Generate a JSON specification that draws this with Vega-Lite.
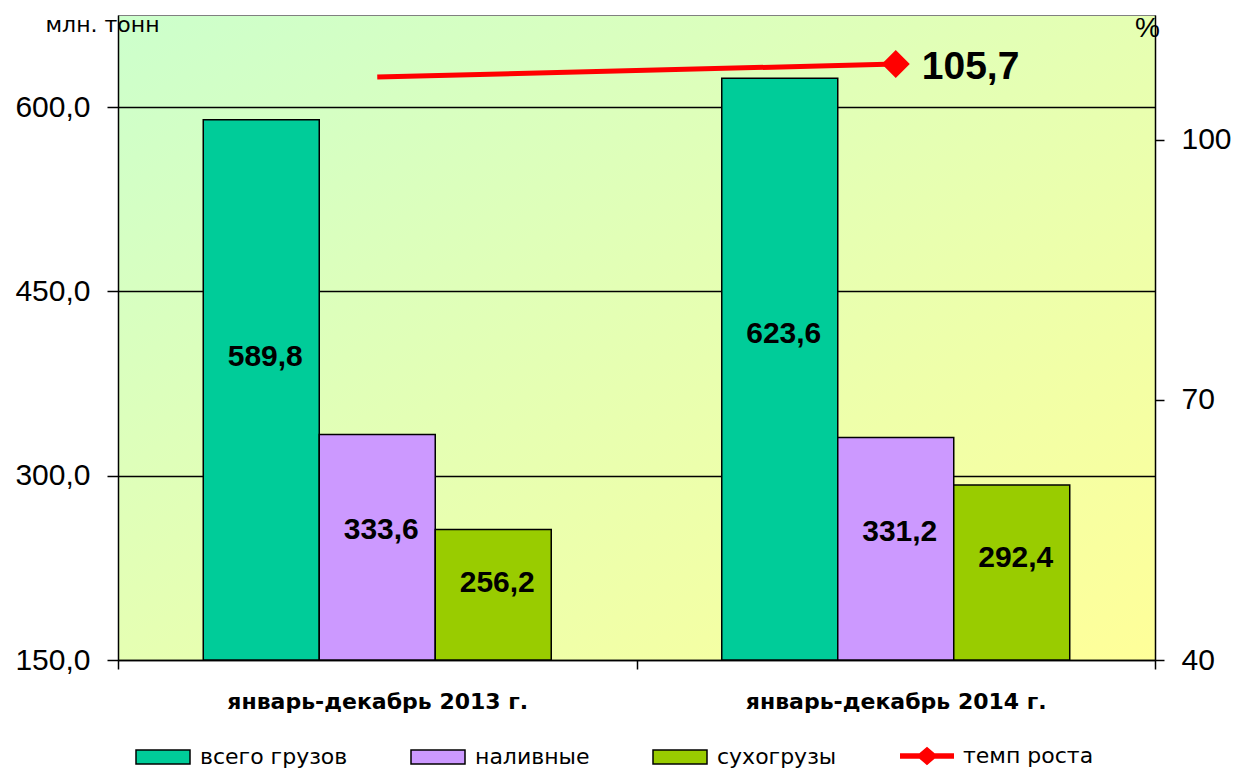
{
  "$schema": "https://vega.github.io/schema/vega-lite/v6.json",
  "width": 1037,
  "height": 645,
  "autosize": {"type": "none"},
  "padding": {"left": 118, "top": 15, "right": 80, "bottom": 111},
  "background": "white",
  "config": {
    "font": "Liberation Sans",
    "view": {
      "fill": {"gradient": "linear", "x1": 0, "y1": 0, "x2": 1, "y2": 1,
        "stops": [{"offset": 0, "color": "#CCFFCC"}, {"offset": 1, "color": "#FFFF99"}]},
      "stroke": "#808080",
      "strokeWidth": 1
    }
  },
  "resolve": {"scale": {"y": "independent"}},
  "layer": [
    {
      "data": {"values": [
        {"period": "январь-декабрь 2013 г.", "type": "всего грузов", "value": 589.8},
        {"period": "январь-декабрь 2013 г.", "type": "наливные", "value": 333.6},
        {"period": "январь-декабрь 2013 г.", "type": "сухогрузы", "value": 256.2},
        {"period": "январь-декабрь 2014 г.", "type": "всего грузов", "value": 623.6},
        {"period": "январь-декабрь 2014 г.", "type": "наливные", "value": 331.2},
        {"period": "январь-декабрь 2014 г.", "type": "сухогрузы", "value": 292.4}
      ]},
      "transform": [
        {"calculate": "0.55 * datum.value + 72", "as": "labelY"},
        {"calculate": "replace(format(datum.value, '.1f'), '.', ',')", "as": "label"}
      ],
      "encoding": {
        "x": {"field": "period", "type": "nominal", "sort": null, "title": null,
          "scale": {"paddingInner": 0, "paddingOuter": 0},
          "axis": {"orient": "bottom", "labelAngle": 0, "tickBand": "extent", "tickSize": 9, "tickColor": "black", "tickWidth": 1.5,
            "domainColor": "black", "domainWidth": 1.5, "labelFont": "DejaVu Sans", "labelFontWeight": "bold", "labelFontSize": 22,
            "labelColor": "black", "labelPadding": 22, "labelLimit": 500, "grid": false}},
        "xOffset": {"field": "type", "type": "nominal", "sort": ["всего грузов", "наливные", "сухогрузы"],
          "scale": {"paddingInner": 0, "paddingOuter": 0.735}}
      },
      "layer": [
        {
          "mark": {"type": "bar", "stroke": "black", "strokeWidth": 1.5},
          "encoding": {
            "y": {"field": "value", "type": "quantitative", "scale": {"domain": [150, 675], "nice": false, "zero": false},
              "axis": {"orient": "left", "values": [150, 300, 450, 600], "labelExpr": "replace(format(datum.value, '.1f'), '.', ',')",
                "labelFontSize": 30, "labelColor": "black", "labelPadding": 17, "tickSize": 11, "tickColor": "black", "tickWidth": 1.5,
                "domainColor": "black", "domainWidth": 1.5, "grid": true, "gridColor": "black", "gridWidth": 1.5, "gridOpacity": 1,
                "title": "млн. тонн", "titleAngle": 0, "titleAlign": "left", "titleBaseline": "middle", "titleX": -73, "titleY": 9,
                "titleFont": "DejaVu Sans", "titleFontSize": 22, "titleFontWeight": "normal", "titleColor": "black"}},
            "y2": {"datum": 150},
            "color": {"field": "type", "type": "nominal",
              "scale": {"domain": ["всего грузов", "наливные", "сухогрузы"], "range": ["#00CC99", "#CC99FF", "#99CC00"]},
              "legend": {"orient": "none", "legendX": 17, "legendY": 714, "direction": "horizontal", "title": null,
                "symbolSize": 2916, "symbolType": "M-1,-0.26H1V0.26H-1Z", "symbolStrokeColor": "black", "symbolStrokeWidth": 1.5,
                "symbolOpacity": 1,
                "labelFont": "DejaVu Sans", "labelFontSize": 22, "labelColor": "black", "labelOffset": 9,
                "columnPadding": 60, "padding": 0, "labelLimit": 400}}
          }
        },
        {
          "mark": {"type": "text", "fontWeight": "bold", "fontSize": 30, "color": "black", "dx": 4, "baseline": "middle"},
          "encoding": {
            "y": {"field": "labelY", "type": "quantitative"},
            "text": {"field": "label"}
          }
        }
      ]
    },
    {
      "data": {"values": [{}]},
      "mark": {"type": "point", "opacity": 0},
      "encoding": {
        "y": {"datum": 40, "type": "quantitative", "scale": {"domain": [40, 114.4], "nice": false, "zero": false},
          "axis": {"orient": "right", "values": [40, 70, 100], "labelFontSize": 30, "labelColor": "black", "labelPadding": 17,
            "tickSize": 9, "tickColor": "black", "tickWidth": 1.5, "domainColor": "black", "domainWidth": 1.5, "grid": false,
            "title": "%", "titleAngle": 0, "titleAlign": "center", "titleBaseline": "middle", "titleX": -8, "titleY": 13,
            "titleFontSize": 28, "titleFontWeight": "normal", "titleColor": "black"}}
      }
    },
    {
      "data": {"values": [
        {"period": "январь-декабрь 2013 г.", "rate": 100},
        {"period": "январь-декабрь 2014 г.", "rate": 105.7}
      ]},
      "transform": [
        {"calculate": "replace(format(datum.rate, '.1f'), '.', ',')", "as": "label"}
      ],
      "encoding": {
        "x": {"field": "period", "type": "nominal", "sort": null},
        "y": {"field": "rate", "type": "quantitative", "scale": {"domain": [-155.6, 127.2], "nice": false, "zero": false}, "axis": null}
      },
      "layer": [
        {
          "mark": {"type": "line", "strokeWidth": 5, "color": "#FF0000"}
        },
        {
          "transform": [{"filter": "datum.period === 'январь-декабрь 2014 г.'"}],
          "mark": {"type": "point", "shape": "diamond", "size": 784, "filled": true, "opacity": 1, "strokeWidth": 0},
          "encoding": {
            "fill": {"datum": "темп роста", "type": "nominal", "scale": {"domain": ["темп роста"], "range": ["#FF0000"]},
              "legend": {"orient": "none", "legendX": 782, "legendY": 714, "direction": "horizontal", "title": null,
                "symbolSize": 2916, "symbolType": "M-1,-0.1H1V0.1H-1Z M-0.4,0L0,-0.34L0.4,0L0,0.34Z",
                "symbolStrokeWidth": 0, "symbolOpacity": 1,
                "labelFont": "DejaVu Sans", "labelFontSize": 22, "labelColor": "black", "labelOffset": 9,
                "padding": 0, "labelLimit": 400}}
          }
        },
        {
          "transform": [{"filter": "datum.period === 'январь-декабрь 2014 г.'"}],
          "mark": {"type": "text", "fontWeight": "bold", "fontSize": 39, "color": "black", "align": "left", "baseline": "middle", "dx": 26, "dy": 3},
          "encoding": {"text": {"field": "label"}}
        }
      ]
    }
  ]
}
